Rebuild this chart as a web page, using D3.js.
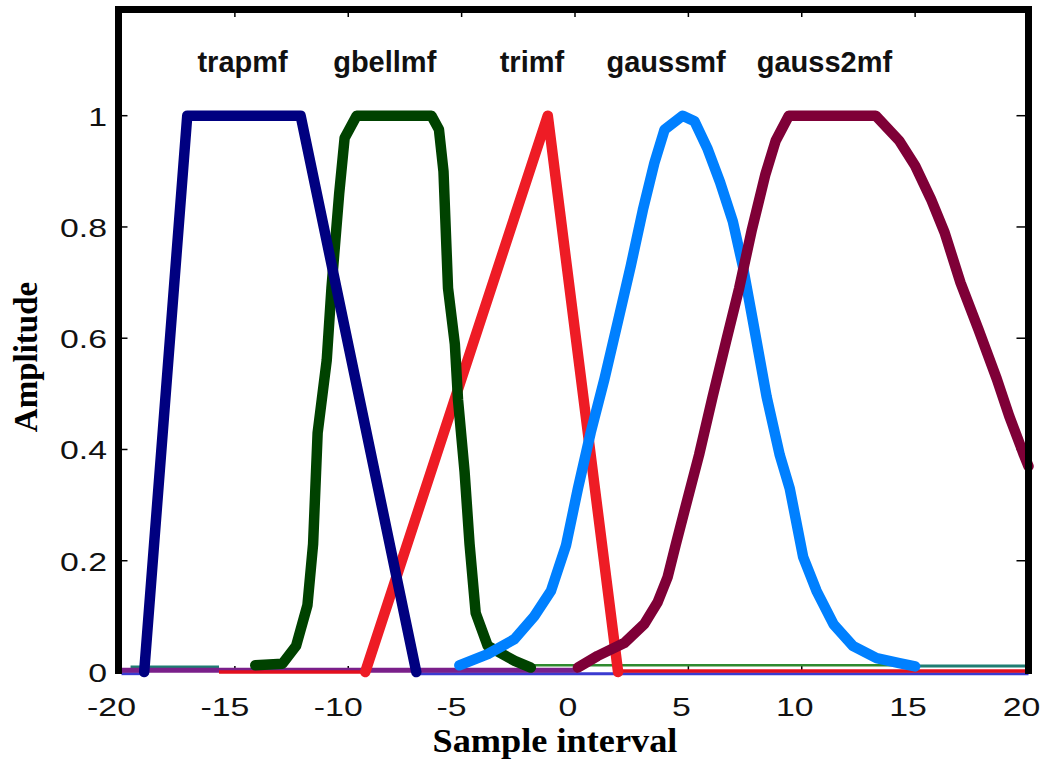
<!DOCTYPE html>
<html>
<head>
<meta charset="utf-8">
<script src="https://cdn.jsdelivr.net/npm/d3@7/dist/d3.min.js"></script>
<style>
  body { margin: 0; background: #fff; }
</style>
</head>
<body>
<div id="chart"></div>
<script>
// values: x = sample interval, y = amplitude
var trapmfX = [-19.0, -17.1, -12.1, -7.0];
var trapmfY = [0, 1, 1, 0];

var gbellmfX = [-14.1, -12.9, -12.3, -11.8, -11.55, -11.35, -10.95, -10.74, -10.4, -10.16, -9.63,
                -6.33, -6.0, -5.8, -5.6, -5.3, -5.16, -4.87, -4.65, -4.38, -3.85, -2.66, -1.95];
var gbellmfY = [0.012, 0.015, 0.047, 0.12, 0.23, 0.43, 0.56, 0.69, 0.86, 0.96, 1.0,
                1.0, 0.975, 0.9, 0.69, 0.59, 0.49, 0.36, 0.23, 0.106, 0.047, 0.02, 0.008];

var trimfX = [-9.25, -1.2, 1.9];
var trimfY = [0, 1, 0];

var gaussmfX = [-5.1, -3.85, -2.67, -1.8, -1.06, -0.4, 0.13, 0.69, 1.3, 1.88, 2.46, 2.99, 3.5, 3.95,
                4.75, 5.27, 5.85, 6.4, 6.96, 7.4, 7.85, 8.45, 9.03, 9.47, 10.06, 10.65, 11.4, 12.25,
                13.3, 14.3, 15.0];
var gaussmfY = [0.012, 0.032, 0.059, 0.1, 0.146, 0.227, 0.33, 0.43, 0.527, 0.628, 0.73, 0.83, 0.915, 0.975,
                1.0, 0.99, 0.94, 0.88, 0.81, 0.73, 0.63, 0.495, 0.39, 0.33, 0.207, 0.146, 0.086, 0.047,
                0.025, 0.016, 0.01];

var gauss2mfX = [0.13, 1.0, 2.17, 3.05, 3.65, 4.08, 4.45, 4.83, 5.47, 6.07, 6.66, 7.24, 7.8, 8.4, 8.85, 9.43,
                 13.26, 14.3, 15.0, 15.7, 16.3, 17.0, 17.8, 18.6, 19.15, 19.8, 20];
var gauss2mfY = [0.008, 0.029, 0.052, 0.086, 0.126, 0.17, 0.23, 0.29, 0.39, 0.495, 0.594, 0.69, 0.795, 0.895, 0.955, 1.0,
                 1.0, 0.955, 0.91, 0.85, 0.79, 0.70, 0.615, 0.527, 0.46, 0.39, 0.37];

// flat zero parts drawn as thin lines: [from, to, level]
var trapmfBase = [[-20, -19.0, -0.003], [-7.0, 20, -0.003]];
var gaussmfBase = [[-19.6, -15.7, 0.009], [15.0, 20, 0.011]];
var gbellmfBase = [[-1.95, 15.0, 0.012]];
var gauss2mfBase = [[-20, 0.13, 0.003]];
var trimfBase = [[-15.7, -9.25, 0.0], [1.9, 20, 0.002]];

var labelNames = ['trapmf', 'gbellmf', 'trimf', 'gaussmf', 'gauss2mf'];
var labelX = [-14.66, -8.39, -1.9, 4.02, 11.0];
var labelY = 1.079;

var xTicks = [-20, -15, -10, -5, 0, 5, 10, 15, 20];
var yTicks = [0, 0.2, 0.4, 0.6, 0.8, 1];

document.addEventListener('DOMContentLoaded', function () {
    var width = 1044, height = 766;

    var svg = d3.select('#chart').append('svg')
        .attr('width', width)
        .attr('height', height);

    var x = d3.scaleLinear().domain([-20, 20]).range([121.5, 1028.5]);
    var y = d3.scaleLinear().domain([0, 1.19]).range([672, 10]);

    // the source picture is stretched sideways, so the tick text is too
    var stretch = 1.3;

    // ticks (inside)
    var ticks = svg.append('g').attr('stroke', '#000').attr('stroke-width', 1.5);
    yTicks.slice(1).forEach(function (t) {
        ticks.append('line').attr('x1', x(-20)).attr('x2', x(-20) + 6).attr('y1', y(t)).attr('y2', y(t));
        ticks.append('line').attr('x1', x(20) - 12).attr('x2', x(20)).attr('y1', y(t)).attr('y2', y(t));
    });
    xTicks.slice(1, -1).forEach(function (t) {
        ticks.append('line').attr('x1', x(t)).attr('x2', x(t)).attr('y1', y(1.19)).attr('y2', y(1.19) + 7);
        ticks.append('line').attr('x1', x(t)).attr('x2', x(t)).attr('y1', y(0)).attr('y2', y(0) - 6);
    });

    // tick labels
    svg.append('g').selectAll('text').data(yTicks).enter().append('text')
        .attr('transform', function (d) { return 'translate(107,' + (y(d) + 10) + ') scale(' + stretch + ',1)'; })
        .attr('text-anchor', 'end')
        .style('font-family', '"Liberation Sans", Arial, sans-serif')
        .style('font-size', '26px')
        .style('fill', '#111')
        .text(function (d) { return d; });

    // x labels sit a little left of their ticks in the source
    svg.append('g').selectAll('text').data(xTicks).enter().append('text')
        .attr('transform', function (d) {
            var nudge = d < 0 ? -10 : -7;
            return 'translate(' + (x(d) + nudge) + ',716) scale(' + stretch + ',1)';
        })
        .attr('text-anchor', 'middle')
        .style('font-family', '"Liberation Sans", Arial, sans-serif')
        .style('font-size', '26px')
        .style('fill', '#111')
        .text(function (d) { return d; });

    // thin zero lines
    function base(segs, color, w) {
        segs.forEach(function (s) {
            svg.append('line')
                .attr('x1', x(s[0])).attr('x2', x(s[1]))
                .attr('y1', y(s[2])).attr('y2', y(s[2]))
                .style('stroke', color)
                .style('stroke-width', w);
        });
    }
    base(trapmfBase, '#3a3ad0', 3);
    base(gbellmfBase, '#2f8a2f', 2.5);
    base(gaussmfBase, '#1f7d72', 3);
    base(gauss2mfBase, '#7a1f8a', 5);
    base(trimfBase, '#e3101e', 3.5);

    // thick curves
    var line = d3.line()
        .x(function (d) { return x(d[0]); })
        .y(function (d) { return y(d[1]); });

    function curve(xs, ys, color) {
        svg.append('path')
            .datum(d3.zip(xs, ys))
            .attr('d', line)
            .style('fill', 'none')
            .style('stroke', color)
            .style('stroke-width', 10.5)
            .style('stroke-linejoin', 'round')
            .style('stroke-linecap', 'round');
    }
    curve(trimfX, trimfY, '#ee1c25');
    curve(gbellmfX, gbellmfY, '#004200');
    curve(trapmfX, trapmfY, '#000080');
    curve(gaussmfX, gaussmfY, '#0080ff');
    curve(gauss2mfX, gauss2mfY, '#7f0037');

    // frame: left, top, right (bottom is hidden under the zero lines)
    var frame = svg.append('g').style('stroke', '#000').style('stroke-width', 7);
    frame.append('line').attr('x1', x(-20) - 3).attr('x2', x(-20) - 3).attr('y1', y(1.19) - 3.5).attr('y2', y(0) + 2);
    frame.append('line').attr('x1', x(-20) - 6.5).attr('x2', x(20) + 3.5).attr('y1', y(1.19) - 0.5).attr('y2', y(1.19) - 0.5);
    frame.append('line').attr('x1', x(20)).attr('x2', x(20)).attr('y1', y(1.19) - 3.5).attr('y2', y(0) + 2);

    // curve names
    svg.append('g').selectAll('text').data(labelNames).enter().append('text')
        .attr('x', function (d, i) { return x(labelX[i]); })
        .attr('y', y(labelY))
        .attr('text-anchor', 'middle')
        .style('font-family', '"Liberation Sans", Arial, sans-serif')
        .style('font-weight', 'bold')
        .style('font-size', '29px')
        .style('fill', '#111')
        .text(function (d) { return d; });

    // axis titles
    svg.append('text')
        .attr('transform', 'translate(555,752) scale(1.1,1)')
        .attr('text-anchor', 'middle')
        .style('font-family', '"Liberation Serif", "Times New Roman", serif')
        .style('font-weight', 'bold')
        .style('font-size', '33px')
        .text('Sample interval');

    svg.append('text')
        .attr('transform', 'translate(37,357) rotate(-90)')
        .attr('text-anchor', 'middle')
        .style('font-family', '"Liberation Serif", "Times New Roman", serif')
        .style('font-weight', 'bold')
        .style('font-size', '33px')
        .text('Amplitude');
});
</script>
</body>
</html>
